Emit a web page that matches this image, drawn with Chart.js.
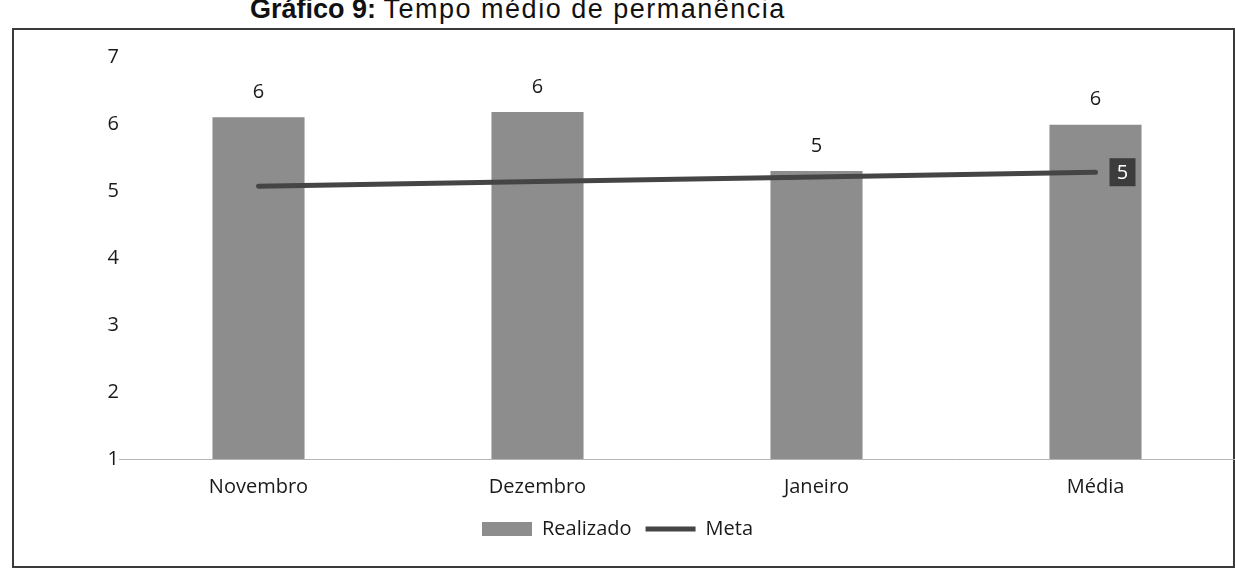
<!DOCTYPE html>
<html>
<head>
<meta charset="utf-8">
<script src="https://cdn.jsdelivr.net/npm/chart.js@4.4.1/dist/chart.umd.min.js"></script>
<style>
  html, body { margin: 0; padding: 0; background: #fff; overflow: hidden; }
  #wrap { position: relative; width: 1235px; height: 571px; }
  #title { position: absolute; left: 250px; top: -4px; font-family: "Liberation Sans", Arial, sans-serif; font-size: 27px; line-height: 27px; color: #111; white-space: nowrap; }
  #title span { letter-spacing: 1.5px; }
  #frame { position: absolute; left: 12px; top: 28px; width: 1219px; height: 536px; border: 2px solid #3a3a3a; }
  #chart { position: absolute; left: 0; top: 0; }
</style>
</head>
<body>
<div id="wrap">
  <div id="title"><b>Gráfico 9:</b> <span>Tempo médio de permanência</span></div>
  <div id="frame"></div>
  <canvas id="chart" width="1235" height="571"></canvas>
</div>
<script>
const categories = ['Novembro', 'Dezembro', 'Janeiro', 'Média'];
const realizado = [6.1, 6.18, 5.3, 5.99];
const meta = [5.07, 5.14, 5.21, 5.28];
const yTicks = [1, 2, 3, 4, 5, 6, 7];

const fontFamily = '"Open Sans", "Noto Sans", sans-serif';

// value labels: above the bars, and a dark box for the last Meta point
const valueLabels = {
    id: 'valueLabels',
    afterDatasetsDraw(chart) {
        const ctx = chart.ctx;
        ctx.save();
        ctx.font = '20px ' + fontFamily;
        ctx.textAlign = 'center';
        ctx.textBaseline = 'middle';

        chart.getDatasetMeta(0).data.forEach((bar, i) => {
            ctx.fillStyle = '#1a1a1a';
            ctx.fillText(Math.round(realizado[i]), bar.x, bar.y - 25);
        });

        const pts = chart.getDatasetMeta(1).data;
        const last = pts[pts.length - 1];
        const bx = last.x + 27, by = last.y;
        ctx.fillStyle = '#3c3c3c';
        ctx.fillRect(bx - 13, by - 14, 26, 28);
        ctx.fillStyle = '#ffffff';
        ctx.fillText(Math.round(meta[meta.length - 1]), bx, by + 1);
        ctx.restore();
    }
};

new Chart(document.getElementById('chart'), {
    data: {
        labels: categories,
        datasets: [{
            type: 'bar',
            label: 'Realizado',
            data: realizado,
            backgroundColor: '#8d8d8d',
            borderWidth: 0,
            barPercentage: 1,
            categoryPercentage: 0.33,
            pointStyle: 'rect',
            order: 2
        }, {
            type: 'line',
            label: 'Meta',
            data: meta,
            borderColor: '#454545',
            backgroundColor: '#454545',
            borderWidth: 5,
            borderCapStyle: 'round',
            pointRadius: 0,
            pointStyle: 'line',
            order: 1
        }]
    },
    options: {
        responsive: false,
        animation: false,
        layout: { padding: { top: 57, right: 0, left: 0, bottom: 22 } },
        scales: {
            x: {
                grid: { display: false, drawTicks: false },
                border: { display: true, color: '#b5b5b5', width: 1 },
                ticks: { color: '#1a1a1a', font: { family: fontFamily, size: 20 }, padding: 16 },
                afterFit(scale) { scale.height = 46; }
            },
            y: {
                min: 1,
                max: 7,
                grid: { display: false, drawTicks: false },
                border: { display: false },
                afterBuildTicks(scale) { scale.ticks = yTicks.map(v => ({ value: v })); },
                ticks: { color: '#1a1a1a', font: { family: fontFamily, size: 20 }, padding: 0 },
                afterFit(scale) { scale.width = 119; }
            }
        },
        plugins: {
            legend: {
                position: 'bottom',
                labels: {
                    usePointStyle: true,
                    pointStyleWidth: 50,
                    boxHeight: 14,
                    color: '#1a1a1a',
                    padding: 14,
                    font: { family: fontFamily, size: 20 },
                    sort: (a, b) => a.datasetIndex - b.datasetIndex
                }
            },
            tooltip: { enabled: false }
        }
    },
    plugins: [valueLabels]
});
</script>
</body>
</html>
